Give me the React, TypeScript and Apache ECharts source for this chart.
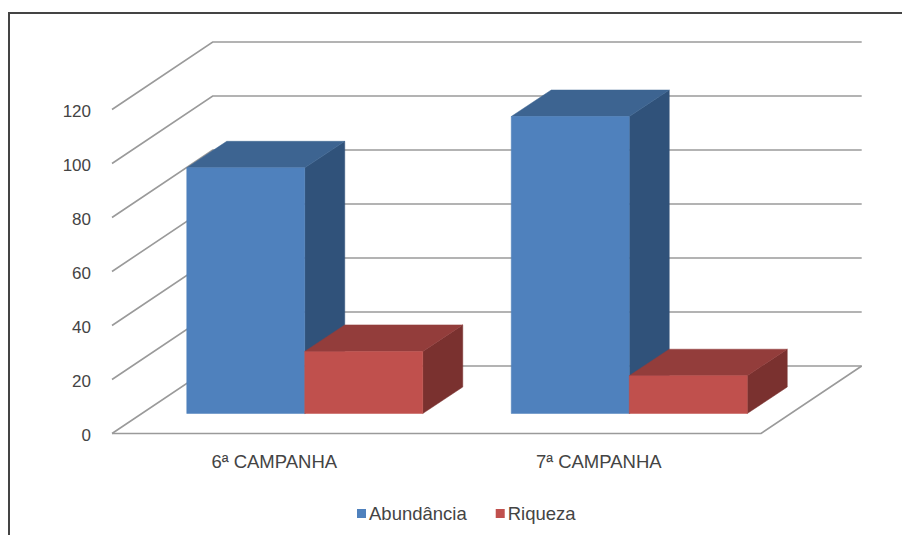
import React, { useEffect, useRef } from "react";
import * as echarts from "echarts";

const categories = ["6ª CAMPANHA", "7ª CAMPANHA"];
const abundancia = [91, 110];
const riqueza = [23, 14];
const yTicks = [0, 20, 40, 60, 80, 100, 120];

// Oblique projection of the 3D plot box, in pixels
const WALL_DX = 100.7;
const WALL_DY = -67.5;
const BAR_SHIFT_X = 30.5;
const BAR_SHIFT_Y = -20;
const BAR_DX = 40;
const BAR_DY = -26.5;
const BAR_WIDTH = 118;
const FONT = "'Liberation Sans', Arial, sans-serif";
const TEXT_COLOR = "#444444";
const WALL_COLOR = "#9a9a9a";

type Shades = { front: string; top: string; side: string };
const BLUE: Shades = { front: "#4f81bd", top: "#3d6491", side: "#30527a" };
const RED: Shades = { front: "#c0504d", top: "#933d3b", side: "#7a312f" };

function polygon(points: number[][], fill: string) {
  return { type: "polygon", shape: { points }, style: { fill, stroke: fill, lineWidth: 0.5 } };
}

// A box standing on the floor; side = -1 puts it left of the band centre, 1 right of it
function boxRenderer(shades: Shades, side: number) {
  return (_params: any, api: any) => {
    const [cx, yTop] = api.coord([api.value(0), api.value(1)]);
    const [, yBase] = api.coord([api.value(0), 0]);
    const left = cx + BAR_SHIFT_X + (side < 0 ? -BAR_WIDTH : 0);
    const right = left + BAR_WIDTH;
    const top = yTop + BAR_SHIFT_Y;
    const base = yBase + BAR_SHIFT_Y;
    return {
      type: "group",
      children: [
        polygon(
          [[right, top], [right + BAR_DX, top + BAR_DY], [right + BAR_DX, base + BAR_DY], [right, base]],
          shades.side,
        ),
        polygon(
          [[left, top], [left + BAR_DX, top + BAR_DY], [right + BAR_DX, top + BAR_DY], [right, top]],
          shades.top,
        ),
        polygon([[left, top], [right, top], [right, base], [left, base]], shades.front),
      ],
    };
  };
}

// Gridline running up the side wall and along the back wall, plus the floor outline at zero
function wallRenderer(params: any, api: any) {
  const grid = params.coordSys;
  const value = api.value(0);
  const y = api.coord([0, value])[1];
  const x0 = grid.x;
  const x1 = grid.x + grid.width;
  const lineStyle = { stroke: WALL_COLOR, lineWidth: 1.6, fill: "none" };
  const children: any[] = [
    {
      type: "polyline",
      shape: { points: [[x0, y], [x0 + WALL_DX, y + WALL_DY], [x1 + WALL_DX, y + WALL_DY]] },
      style: lineStyle,
    },
  ];
  if (value === 0) {
    children.push({
      type: "polyline",
      shape: { points: [[x0, y], [x1, y], [x1 + WALL_DX, y + WALL_DY]] },
      style: lineStyle,
    });
  }
  return { type: "group", children };
}

export default function App() {
  const ref = useRef<HTMLDivElement>(null);

  useEffect(() => {
    if (!ref.current) return;
    const chart = echarts.init(ref.current, undefined, { renderer: "svg" });
    chart.setOption({
      animation: false,
      backgroundColor: "#ffffff",
      grid: { left: 112, top: 109.5, width: 649, height: 324 },
      xAxis: {
        type: "category",
        data: categories,
        axisLine: { show: false },
        axisTick: { show: false },
        axisLabel: { margin: 18, fontFamily: FONT, fontSize: 18.5, color: TEXT_COLOR },
      },
      yAxis: {
        type: "value",
        min: 0,
        max: 120,
        interval: 20,
        axisLine: { show: false },
        axisTick: { show: false },
        splitLine: { show: false },
        axisLabel: {
          margin: 21,
          fontFamily: FONT,
          fontSize: 17,
          color: TEXT_COLOR,
          verticalAlign: "top",
          lineHeight: 4,
        },
      },
      legend: {
        data: ["Abundância", "Riqueza"],
        left: 357,
        top: 504,
        padding: 0,
        icon: "rect",
        itemWidth: 9,
        itemHeight: 9,
        itemGap: 29,
        textStyle: { fontFamily: FONT, fontSize: 18.5, color: TEXT_COLOR, padding: [0, 0, 0, -2] },
      },
      graphic: [
        {
          type: "polyline",
          shape: { points: [[9, 535], [9, 13], [902, 13]] },
          style: { stroke: "#444444", lineWidth: 2, fill: "none" },
          silent: true,
        },
      ],
      series: [
        {
          type: "custom",
          name: "wall",
          renderItem: wallRenderer,
          data: yTicks.map((t) => [t]),
          encode: { y: 0 },
          silent: true,
          z: 1,
        },
        {
          type: "custom",
          name: "Abundância",
          renderItem: boxRenderer(BLUE, -1),
          data: abundancia.map((v, i) => [i, v]),
          encode: { x: 0, y: 1 },
          itemStyle: { color: BLUE.front },
          z: 2,
        },
        {
          type: "custom",
          name: "Riqueza",
          renderItem: boxRenderer(RED, 1),
          data: riqueza.map((v, i) => [i, v]),
          encode: { x: 0, y: 1 },
          itemStyle: { color: RED.front },
          z: 3,
        },
      ],
    });
    return () => chart.dispose();
  }, []);

  return <div ref={ref} style={{ position: "absolute", left: 0, top: 0, width: 902, height: 535 }} />;
}
